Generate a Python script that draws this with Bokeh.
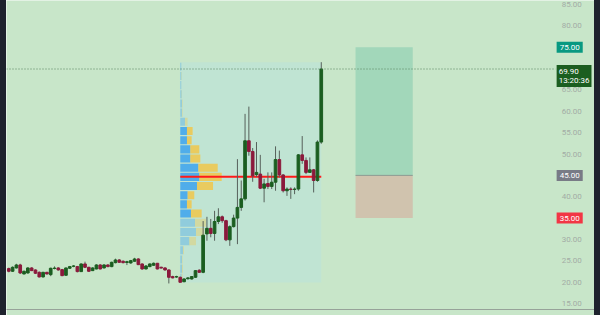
from bokeh.plotting import figure
from bokeh.models import ColumnDataSource, FixedTicker, Div, Range1d
from bokeh.core.properties import value
from bokeh.layouts import row
from bokeh.embed import file_html
from bokeh.resources import INLINE

# ---------------- data ----------------
opens = [23.17, 22.55, 23.33, 24.03, 21.92, 22.15, 23.33, 22.86, 22.31, 21.22,
         22.31, 21.76, 23.20, 23.33, 22.94, 21.61, 23.25, 23.70, 23.64, 22.47,
         24.26, 23.48, 22.70, 23.09, 24.03, 23.33, 24.03, 23.64, 24.57, 25.20,
         24.89, 24.60, 24.50, 24.89, 25.43, 24.26, 23.09, 23.64, 23.95, 24.42,
         23.50, 23.33, 22.86, 21.30, 21.20, 21.14, 20.10, 20.80, 20.75, 21.14,
         22.80, 22.30, 31.30, 32.60, 31.40, 34.20, 35.30, 34.40, 29.90, 33.00,
         35.00, 37.50, 39.50, 53.10, 50.60, 45.20, 45.30, 42.00, 43.10, 42.40,
         43.40, 48.70, 45.10, 41.40, 41.80, 41.70, 41.80, 49.80, 48.50, 45.70,
         46.30, 43.80, 52.80]
closes = [22.55, 23.48, 24.03, 22.15, 22.55, 23.33, 22.70, 22.08, 21.22, 22.31,
          21.92, 23.25, 23.30, 22.86, 21.53, 23.33, 23.64, 23.80, 22.47, 24.26,
          23.48, 22.55, 23.33, 24.03, 23.09, 24.03, 23.64, 24.65, 25.20, 24.65,
          24.57, 24.80, 25.04, 25.43, 24.10, 23.09, 23.79, 24.26, 24.42, 23.09,
          23.30, 22.86, 21.14, 21.00, 21.30, 19.97, 20.75, 21.00, 21.30, 22.70,
          22.30, 31.00, 32.60, 31.40, 34.20, 35.30, 34.40, 29.90, 33.00, 35.00,
          37.50, 39.50, 53.10, 50.60, 44.90, 45.70, 42.00, 43.00, 42.40, 43.40,
          48.70, 45.10, 41.40, 41.80, 41.70, 41.80, 49.80, 48.50, 45.70, 46.30,
          43.80, 52.80, 69.90]
highs = [23.4, 23.7, 24.3, 24.3, 22.7, 23.5, 23.5, 23.0, 22.5, 22.4,
         22.4, 23.4, 23.7, 23.5, 23.1, 23.4, 23.8, 24.0, 23.8, 24.4,
         24.8, 23.6, 23.5, 24.2, 24.2, 24.2, 24.2, 24.8, 25.5, 25.4,
         25.1, 25.0, 25.2, 25.7, 25.6, 24.4, 24.0, 24.4, 24.6, 24.5,
         23.6, 23.5, 23.0, 21.5, 21.5, 21.3, 20.9, 21.2, 21.4, 22.8,
         23.0, 34.3, 35.3, 34.8, 36.7, 37.3, 35.6, 34.6, 33.3, 35.8,
         48.8, 43.8, 59.4, 61.1, 51.4, 52.8, 49.8, 44.2, 45.7, 45.7,
         51.8, 50.8, 45.3, 42.2, 42.2, 42.2, 50.0, 54.2, 49.2, 49.2,
         46.5, 53.2, 71.5]
lows = [22.3, 22.4, 23.2, 21.9, 21.8, 22.0, 22.6, 21.9, 21.1, 21.1,
        21.8, 21.4, 23.0, 22.7, 21.4, 21.5, 23.1, 23.5, 22.3, 22.4,
        23.3, 22.4, 22.6, 23.0, 23.0, 23.2, 23.5, 23.5, 24.4, 24.5,
        24.4, 24.0, 24.3, 24.8, 24.0, 22.9, 23.0, 23.5, 23.8, 23.0,
        23.2, 22.7, 19.7, 20.9, 21.0, 19.95, 20.0, 20.6, 20.6, 21.0,
        22.2, 22.1, 29.7, 30.5, 29.7, 33.6, 33.9, 29.6, 28.5, 32.8,
        28.9, 36.7, 39.1, 49.6, 43.5, 44.6, 41.8, 38.7, 41.8, 41.8,
        41.4, 44.5, 41.0, 40.2, 39.5, 40.6, 41.4, 47.7, 45.3, 45.6,
        41.0, 43.5, 52.4]

# Volume profile rows, from the highest price row down to the lowest
vp_up = [3, 3, 3, 4, 5, 5, 14, 20, 20, 30, 30, 54, 57, 50, 22, 20, 32, 44, 47, 27, 8, 5, 5, 4]
vp_down = [0, 1, 0, 1, 2, 2, 8, 17, 14, 27, 30, 58, 67, 48, 20, 14, 32, 33, 25, 20, 3, 2, 3, 3]
value_area_rows = (7, 16)            # first and last row inside the value area
profile_start, profile_end = 45, 82  # bar indices covered by the profile

# Long position tool
rr_start, rr_end = 91, 106
rr_entry, rr_target, rr_stop = 45.0, 75.0, 35.0

price_ticks = [15, 20, 25, 30, 40, 50, 55, 60, 65, 80, 85]
last_time = "13:20:36"

# ---------------- styles ----------------
BG = "#c8e6c9"
DARK = "#1e222d"
GREEN = "#1b5e20"
RED = "#8b1a3c"
WICK = "#56605a"
AXIS_TXT = "#a3aca5"
FONT = "Roboto"

X0, X1 = -0.6, 153.7     # full frame incl. price scale
SCALE_X = 143.5           # where the price scale begins

p = figure(width=588, height=315, output_backend="svg", toolbar_location=None,
           x_range=Range1d(X0, X1), y_range=Range1d(13.6, 85.94),
           min_border_left=0, min_border_right=0, min_border_top=0, min_border_bottom=6)
p.background_fill_color = BG
p.border_fill_color = BG
p.outline_line_color = None
p.grid.visible = False
p.yaxis.visible = False

xa = p.xaxis[0]
xa.ticker = FixedTicker(ticks=[])
xa.major_tick_line_color = None
xa.minor_tick_line_color = None
xa.axis_line_color = "#97a299"
xa.axis_line_width = 1

# ---------------- candles ----------------
n = len(opens)
cols = [GREEN if c >= o else RED for o, c in zip(opens, closes)]
src = ColumnDataSource(dict(
    x=list(range(n)), h=highs, l=lows,
    top=[max(o, c) for o, c in zip(opens, closes)],
    bot=[min(o, c) for o, c in zip(opens, closes)],
    color=cols))

# ---------------- volume profile ----------------
ph = max(highs[profile_start:profile_end + 1])
pl = min(lows[profile_start:profile_end + 1])
nrows = len(vp_up)
rh = (ph - pl) / nrows
centers = [ph - rh * (k + 0.5) for k in range(nrows)]
scale = 1 / 11.4  # bar units per volume unit
in_va = [value_area_rows[0] <= k <= value_area_rows[1] for k in range(nrows)]

p.quad(left=profile_start - 0.1, right=profile_end, top=ph, bottom=pl,
       fill_color="#bfe3d4", fill_alpha=0.9, line_color=None)

vp_src = ColumnDataSource(dict(
    y=centers,
    l1=[profile_start] * nrows,
    r1=[profile_start + u * scale for u in vp_up],
    r2=[profile_start + (u + d) * scale for u, d in zip(vp_up, vp_down)],
    a=[0.7 if v else 0.3 for v in in_va]))
p.hbar(y="y", left="l1", right="r1", height=rh * 0.88, fill_color="#2196f3",
       fill_alpha="a", line_color=None, source=vp_src)
p.hbar(y="y", left="r1", right="r2", height=rh * 0.88, fill_color="#fbc02d",
       fill_alpha="a", line_color=None, source=vp_src)

tot = [u + d for u, d in zip(vp_up, vp_down)]
poc = centers[tot.index(max(tot))]
p.segment(x0=[profile_start], x1=[profile_end], y0=[poc], y1=[poc],
          line_color="#ff1a1a", line_width=2)

p.segment(x0="x", y0="h", x1="x", y1="l", line_color=WICK, line_width=1, source=src)
p.vbar(x="x", width=0.7, top="top", bottom="bot", fill_color="color",
       line_color="color", line_width=1, source=src)

# ---------------- long position ----------------
p.quad(left=rr_start, right=rr_end, top=rr_target, bottom=rr_entry,
       fill_color="#089981", fill_alpha=0.2, line_color=None)
p.quad(left=rr_start, right=rr_end, top=rr_entry, bottom=rr_stop,
       fill_color="#f23645", fill_alpha=0.2, line_color=None)
p.segment(x0=[rr_start], x1=[rr_end], y0=[rr_entry], y1=[rr_entry],
          line_color="#8e9a92", line_width=1)

# ---------------- last price line ----------------
p.segment(x0=[X0], x1=[SCALE_X], y0=[closes[-1]], y1=[closes[-1]],
          line_color="#55805e", line_dash="1 2", line_width=1)

# ---------------- price scale ----------------
p.text(x=[SCALE_X] * len(price_ticks), y=price_ticks,
       text=[f"{t:.2f}" for t in price_ticks], text_font=value(FONT),
       text_font_size="8px", text_color=AXIS_TXT, text_baseline="middle",
       text_align="left", x_offset=6)

tags = [(rr_target, f"{rr_target:.2f}", "#089981"),
        (rr_entry, f"{rr_entry:.2f}", "#787b86"),
        (rr_stop, f"{rr_stop:.2f}", "#f23645")]
for y, t, bg in tags:
    p.text(x=[SCALE_X], y=[y], text=[t], text_font=value(FONT), text_font_size="8px",
           text_color="white", text_baseline="middle", text_align="left",
           background_fill_color=bg, padding=3, x_offset=1)

p.text(x=[SCALE_X], y=[closes[-1]], text=[f"{closes[-1]:.2f}\n{last_time}"],
       text_font=value(FONT), text_font_size="8px", text_color="white",
       text_baseline="top", text_align="left", background_fill_color="#1b5e20",
       text_line_height=1.0, padding=2, x_offset=1, y_offset=-4)

left_strip = Div(width=6, height=315, margin=0, styles={"background-color": DARK})
right_strip = Div(width=6, height=315, margin=0, styles={"background-color": DARK})
layout = row(left_strip, p, right_strip, spacing=0)

open("out.html", "w").write(file_html(layout, INLINE))
